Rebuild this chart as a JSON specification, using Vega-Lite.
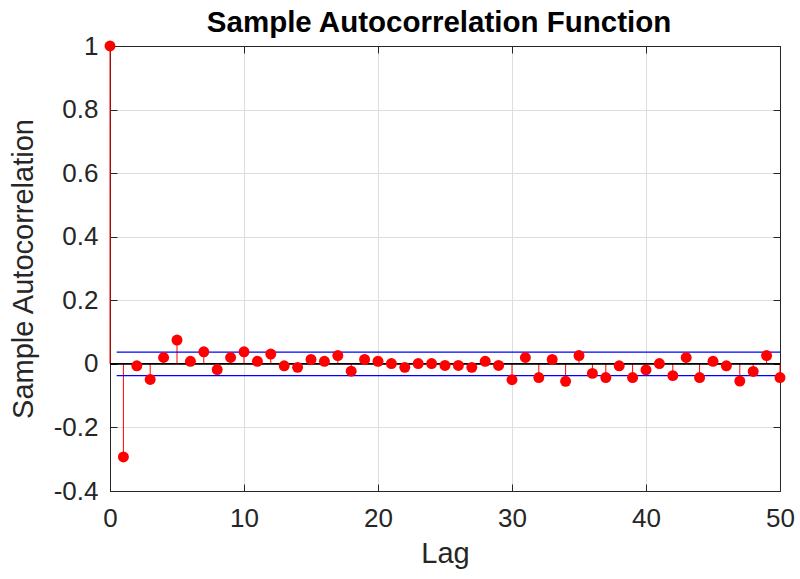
{
  "$schema": "https://vega.github.io/schema/vega-lite/v6.json",
  "width": 670,
  "height": 445,
  "autosize": {"type": "none"},
  "padding": {"left": 110, "top": 46, "right": 20, "bottom": 88},
  "background": "white",
  "title": {
    "text": "Sample Autocorrelation Function",
    "font": "Liberation Sans",
    "fontSize": 29.5,
    "fontWeight": "bold",
    "color": "#000000",
    "anchor": "middle",
    "offset": -5,
    "dx": -6
  },
  "config": {
    "view": {"stroke": "#262626", "strokeWidth": 1},
    "axis": {
      "labelFont": "Liberation Sans",
      "titleFont": "Liberation Sans",
      "labelFontSize": 26,
      "titleFontSize": 29,
      "titleFontWeight": "normal",
      "labelColor": "#262626",
      "titleColor": "#262626",
      "domainColor": "#262626",
      "tickColor": "#262626",
      "gridColor": "#dedede",
      "gridWidth": 1,
      "tickSize": -7,
      "tickWidth": 1,
      "labelFlush": false
    }
  },
  "datasets": {
    "acf": [
      {"lag": 0, "acf": 1},
      {"lag": 1, "acf": -0.293},
      {"lag": 2, "acf": -0.006},
      {"lag": 3, "acf": -0.049},
      {"lag": 4, "acf": 0.020},
      {"lag": 5, "acf": 0.075},
      {"lag": 6, "acf": 0.008},
      {"lag": 7, "acf": 0.038},
      {"lag": 8, "acf": -0.018},
      {"lag": 9, "acf": 0.020},
      {"lag": 10, "acf": 0.038},
      {"lag": 11, "acf": 0.008},
      {"lag": 12, "acf": 0.031},
      {"lag": 13, "acf": -0.006},
      {"lag": 14, "acf": -0.011},
      {"lag": 15, "acf": 0.014},
      {"lag": 16, "acf": 0.008},
      {"lag": 17, "acf": 0.026},
      {"lag": 18, "acf": -0.023},
      {"lag": 19, "acf": 0.014},
      {"lag": 20, "acf": 0.008},
      {"lag": 21, "acf": 0.001},
      {"lag": 22, "acf": -0.011},
      {"lag": 23, "acf": 0.001},
      {"lag": 24, "acf": 0.001},
      {"lag": 25, "acf": -0.005},
      {"lag": 26, "acf": -0.005},
      {"lag": 27, "acf": -0.011},
      {"lag": 28, "acf": 0.008},
      {"lag": 29, "acf": -0.005},
      {"lag": 30, "acf": -0.050},
      {"lag": 31, "acf": 0.020},
      {"lag": 32, "acf": -0.043},
      {"lag": 33, "acf": 0.014},
      {"lag": 34, "acf": -0.055},
      {"lag": 35, "acf": 0.026},
      {"lag": 36, "acf": -0.030},
      {"lag": 37, "acf": -0.043},
      {"lag": 38, "acf": -0.006},
      {"lag": 39, "acf": -0.043},
      {"lag": 40, "acf": -0.019},
      {"lag": 41, "acf": 0.001},
      {"lag": 42, "acf": -0.037},
      {"lag": 43, "acf": 0.020},
      {"lag": 44, "acf": -0.043},
      {"lag": 45, "acf": 0.008},
      {"lag": 46, "acf": -0.006},
      {"lag": 47, "acf": -0.054},
      {"lag": 48, "acf": -0.024},
      {"lag": 49, "acf": 0.026},
      {"lag": 50, "acf": -0.043}
    ],
    "bounds": [
      {"start": 0.5, "end": 50, "bound": 0.037},
      {"start": 0.5, "end": 50, "bound": -0.037}
    ],
    "zero": [
      {"start": 0, "end": 50, "level": 0}
    ]
  },
  "resolve": {"axis": {"x": "independent", "y": "independent"}},
  "layer": [
    {
      "encoding": {
        "x": {
          "field": "lag",
          "type": "quantitative",
          "scale": {"domain": [0, 50], "nice": false},
          "axis": {
            "orient": "bottom",
            "title": "Lag",
            "values": [0, 10, 20, 30, 40, 50],
            "labelPadding": 21,
            "titleY": 48
          }
        },
        "y": {
          "field": "acf",
          "type": "quantitative",
          "scale": {"domain": [-0.4, 1], "nice": false, "zero": false},
          "axis": {
            "orient": "left",
            "title": "Sample Autocorrelation",
            "values": [-0.4, -0.2, 0, 0.2, 0.4, 0.6, 0.8, 1],
            "labelExpr": "replace(format(datum.value, '.1~f'), '\u2212', '-')",
            "labelPadding": 19,
            "titleX": -72
          }
        }
      },
      "layer": [
        {
          "data": {"name": "acf"},
          "mark": {"type": "rule", "color": "#ff0000", "strokeWidth": 1},
          "encoding": {
            "y2": {"datum": 0}
          }
        },
        {
          "data": {"name": "zero"},
          "mark": {"type": "rule", "color": "#000000", "strokeWidth": 1.8},
          "encoding": {
            "x": {"field": "start", "type": "quantitative"},
            "x2": {"field": "end"},
            "y": {"field": "level", "type": "quantitative"}
          }
        },
        {
          "data": {"name": "bounds"},
          "mark": {"type": "rule", "color": "#0000ff", "strokeWidth": 1.2},
          "encoding": {
            "x": {"field": "start", "type": "quantitative"},
            "x2": {"field": "end"},
            "y": {"field": "bound", "type": "quantitative"}
          }
        },
        {
          "data": {"name": "acf"},
          "mark": {"type": "circle", "color": "#ff0000", "opacity": 1, "size": 120}
        }
      ]
    },
    {
      "data": {"name": "zero"},
      "mark": {"type": "rule", "opacity": 0},
      "encoding": {
        "x": {
          "field": "start",
          "type": "quantitative",
          "scale": {"domain": [0, 50], "nice": false},
          "axis": {
            "orient": "top",
            "title": null,
            "labels": false,
            "grid": false,
            "values": [0, 10, 20, 30, 40, 50]
          }
        },
        "y": {
          "field": "level",
          "type": "quantitative",
          "scale": {"domain": [-0.4, 1], "nice": false, "zero": false},
          "axis": {
            "orient": "right",
            "title": null,
            "labels": false,
            "grid": false,
            "values": [-0.4, -0.2, 0, 0.2, 0.4, 0.6, 0.8, 1]
          }
        }
      }
    }
  ]
}
